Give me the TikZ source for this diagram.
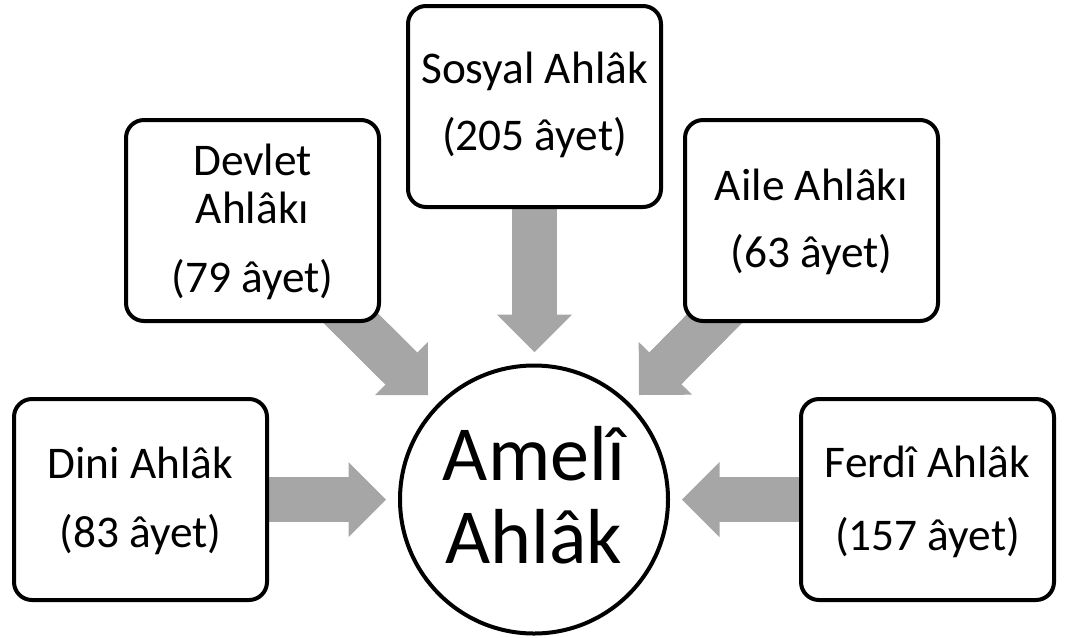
\documentclass[tikz,border=0pt]{standalone}
\usepackage{fontspec}
\setmainfont{Carlito}
\usetikzlibrary{arrows.meta,backgrounds}
\definecolor{arrowgray}{HTML}{A6A6A6}
\begin{document}
\begin{tikzpicture}[x=0.75pt,y=-0.75pt,
  box/.style={draw=black, line width=3pt, rounded corners=13.5pt, fill=white,
    minimum width=189.75pt, minimum height=150.75pt, inner sep=0pt},
  hub/.style={circle, draw=black, line width=3pt, fill=white, minimum size=201pt, inner sep=0pt},
  txt/.style={anchor=base, inner sep=0pt, font=\fontsize{34}{40}\selectfont},
  bigtxt/.style={anchor=base, inner sep=0pt, font=\fontsize{58.5}{68}\selectfont},
  blk/.style={draw=arrowgray, line width=33.75pt,
    preaction={draw=arrowgray, line width=33.75pt, arrows=-, shorten >=25pt},
    -{Triangle[length=28.125pt,width=56.25pt,line width=0pt,fill=arrowgray]}}]
\useasboundingbox (0,0) rectangle (1067,637);
% boxes
\node[box] (dini) at (140.5,499.5) {};
\node[box] (devlet) at (252.5,220.5) {};
\node[box] (sosyal) at (534.5,106.5) {};
\node[box] (aile) at (811.5,220.5) {};
\node[box] (ferdi) at (927.5,499.5) {};
\node[hub] (ameli) at (534,499.5) {};
% texts
\node[txt] (dini1) at (140.5,478) {Dini Ahlâk};
\node[txt] (dini2) at (140.5,547) {(83 âyet)};
\node[txt] (devlet1) at (252.5,175) {Devlet};
\node[txt] (devlet2) at (252.5,223) {Ahlâkı};
\node[txt] (devlet3) at (252.5,292) {(79 âyet)};
\node[txt] (sosyal1) at (534.5,83) {Sosyal Ahlâk};
\node[txt] (sosyal2) at (534.5,150) {(205 âyet)};
\node[txt] (aile1) at (811.5,200) {Aile Ahlâkı};
\node[txt] (aile2) at (811.5,267) {(63 âyet)};
\node[txt] (ferdi1) at (927.5,477) {Ferdî Ahlâk};
\node[txt] (ferdi2) at (927.5,550) {(157 âyet)};
\node[bigtxt] (ameli1) at (534,480) {Amelî};
\node[bigtxt] (ameli2) at (534,563) {Ahlâk};
% arrow tips
\coordinate (tD) at (386,499.5);
\coordinate (tF) at (682,499.5);
\coordinate (tS) at (534.5,352);
\coordinate (tDv) at (428,395);
\coordinate (tA) at (639,395);
\begin{scope}[on background layer]
\draw[blk] (dini.center) -- (tD);
\draw[blk] (ferdi.center) -- (tF);
\draw[blk] (sosyal.center) -- (tS);
\draw[blk] (devlet.center) -- (tDv);
\draw[blk] (aile.center) -- (tA);
\end{scope}
\end{tikzpicture}
\end{document}
